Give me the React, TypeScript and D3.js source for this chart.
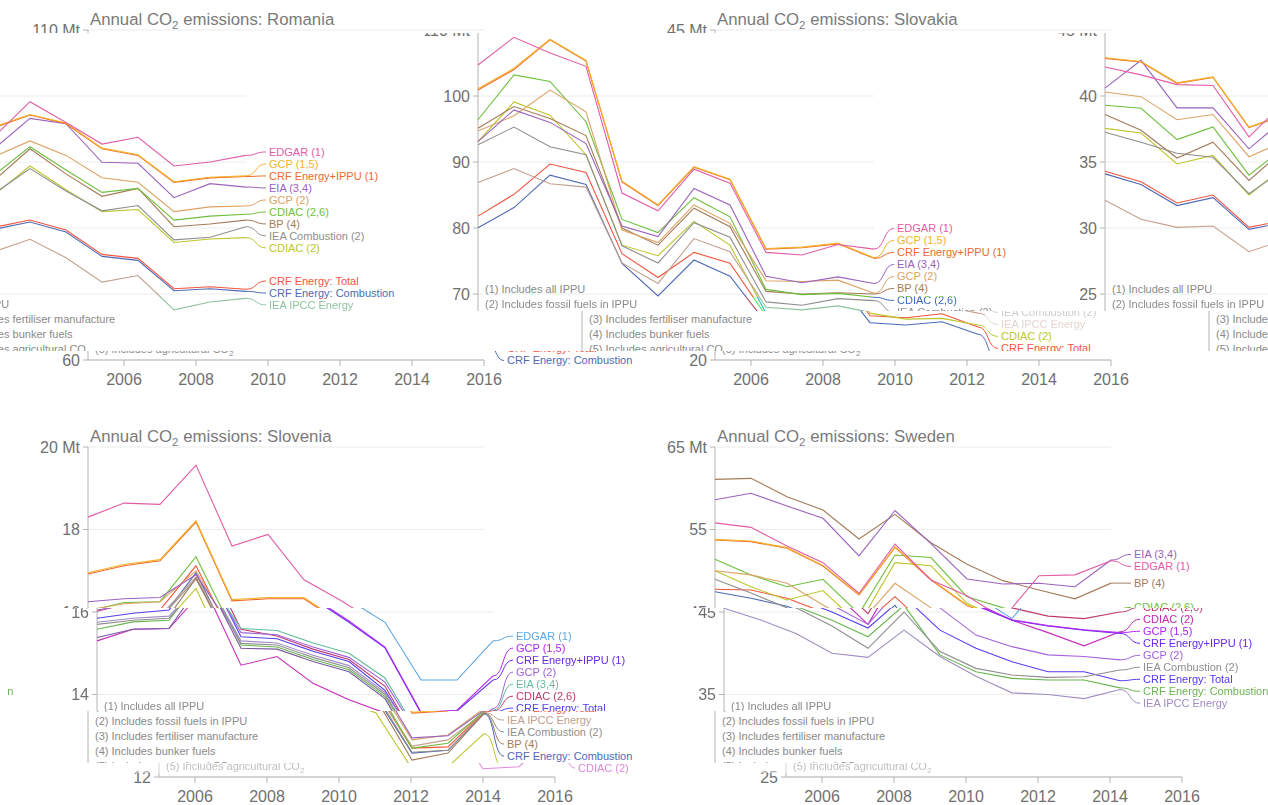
import React from 'react';
import * as d3 from 'd3';

const years = [2005, 2006, 2007, 2008, 2009, 2010, 2011, 2012, 2013, 2014, 2015, 2016];
const xTickYears = [2006, 2008, 2010, 2012, 2014, 2016];

const seriesNames = [
  'EDGAR (1)', 'GCP (1,5)', 'CRF Energy+IPPU (1)', 'EIA (3,4)', 'GCP (2)', 'CDIAC (2,6)',
  'BP (4)', 'IEA Combustion (2)', 'IEA IPCC Energy', 'CDIAC (2)', 'CRF Energy: Total', 'CRF Energy: Combustion',
];
const seriesColors = [
  '#e25ca6', '#f5b22a', '#ec6a2c', '#9a62bd', '#dca264', '#6dbf3b',
  '#a47b58', '#8f8f8f', '#c2a08d', '#bcc62a', '#f2543f', '#4f69b5',
];

const romaniaValues = [
  [104.7, 108.9, 106.5, 104.5, 85.3, 82.6, 88.9, 86.8, 76.3, 75.9, 77.5, 76.8],
  [101.1, 104.2, 108.6, 105.4, 87.1, 83.5, 89.3, 87.4, 76.9, 77.1, 77.7, 75.5],
  [100.9, 104.0, 108.5, 105.3, 87.0, 83.4, 89.2, 87.3, 76.8, 77.0, 77.6, 75.4],
  [93.1, 97.9, 96.0, 92.8, 80.3, 78.7, 86.0, 83.5, 72.7, 71.7, 72.6, 71.6],
  [94.7, 97.0, 100.9, 97.6, 79.7, 77.8, 83.5, 80.7, 72.0, 71.9, 72.1, 70.1],
  [96.4, 103.2, 102.2, 96.1, 81.3, 79.3, 84.6, 81.7, 70.7, 69.9, 70.1, 69.5],
  [95.1, 98.4, 96.6, 94.0, 80.0, 77.4, 83.0, 80.2, 70.4, 70.0, 70.2, 70.0],
  [92.6, 95.3, 92.3, 91.1, 77.3, 74.7, 80.8, 78.6, 68.8, 68.3, 69.3, 69.0],
  [86.9, 89.0, 86.7, 86.2, 74.7, 71.6, 78.4, 76.4, 68.0, 67.6, 68.2, 67.1],
  [93.1, 99.1, 97.1, 91.1, 77.4, 75.8, 81.0, 77.4, 67.1, 66.2, 66.3, 65.3],
  [81.8, 85.1, 89.7, 88.4, 76.1, 72.5, 76.3, 74.65, 66.7, 66.4, 67.0, 65.0],
  [80.05, 83.1, 88.0, 86.6, 74.65, 69.7, 75.15, 72.7, 65.65, 65.3, 65.8, 63.9],
];

const slovakiaValues = [
  [42.2, 41.6, 40.86, 40.8, 36.9, 39.57, 38.0, 36.36, 36.87, 34.7, 35.0, 35.5],
  [42.9, 42.62, 41.0, 41.45, 37.65, 38.6, 37.95, 36.05, 35.55, 33.5, 33.85, 33.95],
  [42.85, 42.58, 40.96, 41.4, 37.6, 38.56, 37.9, 36.0, 35.5, 33.46, 33.8, 33.9],
  [40.6, 42.7, 39.1, 39.1, 36.0, 38.3, 37.9, 34.98, 34.9, 32.3, 33.36, 33.1],
  [40.3, 39.95, 38.2, 38.6, 35.4, 36.6, 35.5, 33.8, 33.46, 31.24, 31.6, 31.67],
  [39.3, 39.07, 36.7, 37.65, 34.0, 36.16, 34.4, 32.7, 33.0, 30.6, 30.9, 31.04],
  [38.6, 37.4, 35.3, 36.5, 33.6, 36.0, 34.1, 32.4, 33.0, 30.1, 30.3, 30.6],
  [37.25, 36.5, 35.66, 35.36, 32.6, 34.5, 32.8, 31.3, 31.7, 29.1, 29.3, 30.1],
  [32.1, 30.66, 30.05, 30.15, 28.2, 29.14, 27.75, 25.9, 26.4, 23.8, 24.4, 24.67],
  [37.55, 37.2, 34.85, 35.5, 32.5, 34.7, 32.9, 31.24, 31.4, 28.9, 29.17, 29.27],
  [34.3, 33.5, 31.9, 32.5, 30.05, 30.6, 29.85, 28.0, 27.7, 25.4, 25.55, 25.36],
  [34.1, 33.3, 31.7, 32.3, 29.9, 30.45, 29.7, 27.85, 27.55, 25.25, 25.4, 25.2],
];

const sloveniaValues = [
  [18.3, 18.64, 18.61, 19.56, 17.6, 17.88, 16.78, 16.29, 15.75, 14.35, 14.35, 15.3],
  [16.95, 17.15, 17.27, 18.21, 16.3, 16.35, 16.35, 15.78, 15.15, 13.57, 13.62, 14.45],
  [16.92, 17.12, 17.24, 18.18, 16.27, 16.32, 16.32, 15.75, 15.13, 13.55, 13.6, 14.35],
  [16.25, 16.32, 16.35, 16.9, 15.6, 15.55, 15.25, 15.0, 14.4, 12.95, 13.0, 13.62],
  [16.05, 16.2, 16.25, 17.0, 15.5, 15.45, 15.15, 14.9, 14.3, 12.9, 13.02, 13.66],
  [16.02, 16.23, 16.25, 17.34, 15.58, 15.42, 15.1, 14.85, 14.2, 12.7, 12.82, 13.6],
  [15.38, 15.58, 15.6, 16.82, 15.12, 15.1, 14.8, 14.55, 13.9, 12.41, 12.58, 13.54],
  [15.7, 15.8, 15.85, 16.8, 15.24, 15.2, 14.9, 14.65, 14.0, 12.6, 12.65, 13.55],
  [15.75, 15.85, 15.9, 16.85, 15.3, 15.25, 14.95, 14.7, 14.05, 12.75, 12.9, 13.56],
  [15.3, 15.58, 15.6, 16.57, 14.71, 14.92, 14.27, 13.87, 13.55, 12.2, 12.25, 13.05],
  [15.85, 15.97, 16.05, 17.12, 15.4, 15.35, 15.05, 14.8, 14.1, 12.7, 12.73, 13.58],
  [15.58, 15.76, 15.8, 16.95, 15.2, 15.15, 14.85, 14.6, 13.95, 12.58, 12.65, 13.53],
];

const swedenValues = [
  [55.8, 55.26, 53.0, 50.98, 47.27, 53.24, 48.88, 46.98, 44.2, 49.4, 49.5, 51.2],
  [53.8, 53.6, 52.8, 50.65, 47.12, 52.9, 48.95, 45.85, 44.05, 43.35, 42.85, 42.5],
  [53.73, 53.52, 52.72, 50.58, 47.06, 52.84, 48.88, 45.8, 44.0, 43.3, 42.8, 42.4],
  [58.6, 59.4, 57.85, 56.36, 51.8, 57.3, 53.3, 49.0, 48.4, 48.48, 48.07, 51.3],
  [50.0, 49.5, 48.48, 45.85, 43.5, 48.48, 45.5, 42.2, 40.8, 39.8, 39.6, 39.2],
  [51.39, 49.48, 48.07, 48.96, 44.8, 51.9, 51.6, 46.86, 45.5, 44.5, 44.2, 45.0],
  [61.08, 61.2, 58.98, 57.36, 53.85, 56.84, 53.4, 50.8, 48.8, 47.67, 46.6, 48.5],
  [48.96, 47.3, 45.5, 43.3, 40.6, 45.0, 40.2, 38.17, 37.36, 37.07, 37.15, 37.97],
  [45.45, 44.05, 42.4, 40.0, 39.5, 42.8, 39.6, 37.2, 35.2, 35.0, 34.5, 35.6],
  [50.0, 48.07, 46.45, 47.6, 43.5, 50.98, 50.6, 46.05, 44.0, 42.5, 40.9, 42.6],
  [47.75, 47.67, 46.66, 45.0, 43.06, 46.86, 42.8, 40.6, 38.98, 37.76, 37.76, 36.67],
  [47.46, 46.66, 45.7, 44.0, 42.0, 45.8, 39.8, 37.76, 36.96, 36.76, 36.76, 35.8],
];

const romaniaTicks = [60, 70, 80, 90, 100, 110];
const slovakiaTicks = [20, 25, 30, 35, 40, 45];
const sloveniaTicks = [12, 14, 16, 18, 20];
const swedenTicks = [25, 35, 45, 55, 65];

const footnotes = [
  '(1) Includes all IPPU',
  '(2) Includes fossil fuels in IPPU',
  '(3) Includes fertiliser manufacture',
  '(4) Includes bunker fuels',
  '(5) Includes agricultural CO',
];

// layout constants
const PLOT_LEFT = 88;
const PLOT_RIGHT = 484;
const PLOT_TOP = 30;
const PLOT_BOTTOM = 360;
const COL_OFFSET = 627;
const ROW2_OFFSET = 417;
const FONT = "'Liberation Sans', Arial, Helvetica, sans-serif";
const AXIS = '#b4b4b4';
const TEXT = '#707070';

function layoutLabels(targets: number[], gap: number): number[] {
  const order = targets.map((_, i) => i).sort((a, b) => targets[a] - targets[b]);
  type C = { idx: number[]; top: number };
  const place = (c: C) => {
    const m = d3.mean(c.idx, (i) => targets[i]) as number;
    c.top = m - ((c.idx.length - 1) * gap) / 2;
  };
  const clusters: C[] = order.map((i) => ({ idx: [i], top: targets[i] }));
  let merged = true;
  while (merged) {
    merged = false;
    for (let k = 0; k < clusters.length - 1; k++) {
      const a = clusters[k];
      const b = clusters[k + 1];
      if (a.top + a.idx.length * gap > b.top) {
        const c: C = { idx: [...a.idx, ...b.idx], top: 0 };
        place(c);
        clusters.splice(k, 2, c);
        merged = true;
        break;
      }
    }
  }
  const out: number[] = new Array(targets.length).fill(0);
  clusters.forEach((c) => c.idx.forEach((i, j) => (out[i] = c.top + j * gap)));
  return out;
}

function Panel({ country, values, ticks }: { country: string; values: number[][]; ticks: number[] }) {
  const x = d3.scaleLinear().domain([years[0], years[years.length - 1]]).range([PLOT_LEFT, PLOT_RIGHT]);
  const y = d3.scaleLinear().domain([ticks[0], ticks[ticks.length - 1]]).range([PLOT_BOTTOM, PLOT_TOP]);
  const line = d3.line<number>().x((_, i) => x(years[i])).y((d) => y(d));
  const xl = x(years[years.length - 1]);
  const targets = values.map((s) => y(s[s.length - 1]));
  const ly = layoutLabels(targets, 12);
  const topTick = ticks[ticks.length - 1];
  const [x0, x1] = x.range();
  const [yb, yt] = y.range();
  return (
    <g fontFamily={FONT}>
      {ticks.map((t) => (
        <line key={'g' + t} x1={x0} x2={x1} y1={y(t)} y2={y(t)} stroke="#ececec" />
      ))}
      <line x1={x0} x2={x0} y1={yt} y2={yb} stroke={AXIS} />
      {ticks.map((t) => (
        <g key={'t' + t}>
          <line x1={x0 - 5} x2={x0} y1={y(t)} y2={y(t)} stroke={AXIS} />
          <text x={x0 - 8} y={y(t)} dy="0.35em" textAnchor="end" fontSize={16} fill={TEXT}>
            {t === topTick ? `${t} Mt` : t}
          </text>
        </g>
      ))}
      <line x1={x0} x2={x1} y1={yb} y2={yb} stroke={AXIS} />
      {xTickYears.map((yr) => (
        <g key={'x' + yr}>
          <line x1={x(yr)} x2={x(yr)} y1={yb} y2={yb + 6} stroke={AXIS} />
          <text x={x(yr)} y={yb + 25} textAnchor="middle" fontSize={16} fill={TEXT}>
            {yr}
          </text>
        </g>
      ))}
      <text x={x0 + 2} y={25} fontSize={16.8} fill="#7a7a7a">
        Annual CO<tspan fontSize={11.5} dy={4}>2</tspan>
        <tspan dy={-4}> emissions: {country}</tspan>
      </text>
      {footnotes.map((f, i) => (
        <text key={'f' + i} x={x0 + 7} y={289 + i * 15} dy="0.35em" fontSize={11} fill="#8a8a8a">
          {f}
          {i === 4 ? <tspan fontSize={8} dy={3}>2</tspan> : null}
        </text>
      ))}
      {values
        .map((s, i) => (
          <path key={'l' + i} d={line(s) || ''} stroke={seriesColors[i]} fill="none" strokeWidth={1.1} />
        ))
        .reverse()}
      {values.map((s, i) => (
        <g key={'lab' + i}>
          <path
            d={`M${xl},${targets[i]} C${xl + 11},${targets[i]} ${xl + 9},${ly[i]} ${xl + 20},${ly[i]}`}
            stroke={seriesColors[i]}
            fill="none"
            strokeWidth={1}
          />
          <text x={xl + 23} y={ly[i]} dy="0.35em" fontSize={11} fill={seriesColors[i]}>
            {seriesNames[i]}
          </text>
        </g>
      ))}
    </g>
  );
}

type Tile = { row: string; x: number; y: number; w: number; h: number; dx: number; filter?: string; opacity?: number };

const tiles: Tile[] = [
  { row: 'rowTop', x: 0, y: 0, w: 1268, h: 33, dx: 0 },
  { row: 'rowTop', x: 425, y: 33, w: 843, h: 264, dx: 390 },
  { row: 'rowTop', x: 0, y: 33, w: 425, h: 264, dx: -865 },
  { row: 'rowTop', x: 425, y: 297, w: 843, h: 14, dx: 390, filter: 'inv' },
  { row: 'rowTop', x: 0, y: 297, w: 425, h: 14, dx: -865, filter: 'inv' },
  { row: 'rowTop', x: 480, y: 311, w: 505, h: 40, dx: 494 },
  { row: 'rowTop', x: 985, y: 311, w: 125, h: 20, dx: 494, opacity: 0.45 },
  { row: 'rowTop', x: 985, y: 331, w: 125, h: 20, dx: 494 },
  { row: 'rowTop', x: 1110, y: 311, w: 158, h: 40, dx: 494 },
  { row: 'rowTop', x: 0, y: 311, w: 480, h: 40, dx: -770 },
  { row: 'rowTop', x: 0, y: 351, w: 1268, h: 66, dx: 0 },
  { row: 'rowBottom', x: 0, y: 417, w: 1268, h: 191, dx: 0 },
  { row: 'rowBottom', x: 0, y: 608, w: 1268, h: 103, dx: 9, filter: 'rot' },
  { row: 'rowBottom', x: 8, y: 608, w: 30, h: 103, dx: -1246, filter: 'rot' },
  { row: 'rowBottom', x: 0, y: 711, w: 1268, h: 52, dx: 0 },
  { row: 'rowBottom', x: 0, y: 763, w: 1268, h: 10, dx: 71, filter: 'rot', opacity: 0.55 },
  { row: 'rowBottom', x: 0, y: 773, w: 1268, h: 32, dx: 71 },
];

export default function App() {
  return (
    <div style={{ position: 'absolute', left: 0, top: 0, width: 1268, height: 805, overflow: 'hidden', background: '#fff' }}>
      <svg width={1268} height={805} style={{ display: 'block' }}>
        <defs>
          <filter id="rot" filterUnits="userSpaceOnUse" x={-3000} y={-3000} width={8000} height={8000} colorInterpolationFilters="sRGB">
            <feColorMatrix type="matrix" values="0 1 0 0 0  0 0 1 0 0  1 0 0 0 0  0 0 0 1 0" />
          </filter>
          <filter id="inv" filterUnits="userSpaceOnUse" x={-3000} y={-3000} width={8000} height={8000} colorInterpolationFilters="sRGB">
            <feColorMatrix type="matrix" values="0 0 1 0 0  1 0 0 0 0  0 1 0 0 0  0 0 0 1 0" />
          </filter>
          {tiles.map((t, i) => (
            <clipPath key={'c' + i} id={'clip' + i}>
              <rect x={t.x} y={t.y} width={t.w} height={t.h} />
            </clipPath>
          ))}
          <g id="rowTop">
            <Panel country="Romania" values={romaniaValues} ticks={romaniaTicks} />
            <g transform={`translate(${COL_OFFSET},0)`}>
              <Panel country="Slovakia" values={slovakiaValues} ticks={slovakiaTicks} />
            </g>
          </g>
          <g id="rowBottom">
            <Panel country="Slovenia" values={sloveniaValues} ticks={sloveniaTicks} />
            <g transform={`translate(${COL_OFFSET},0)`}>
              <Panel country="Sweden" values={swedenValues} ticks={swedenTicks} />
            </g>
          </g>
        </defs>
        <rect width={1268} height={805} fill="#fff" />
        {tiles.map((t, i) => (
          <g key={'tile' + i} clipPath={`url(#clip${i})`} opacity={t.opacity ?? 1}>
            <g
              transform={`translate(${t.dx},${t.row === 'rowTop' ? 0 : ROW2_OFFSET})`}
              filter={t.filter ? `url(#${t.filter})` : undefined}
            >
              <use href={`#${t.row}`} />
            </g>
          </g>
        ))}
      </svg>
    </div>
  );
}
